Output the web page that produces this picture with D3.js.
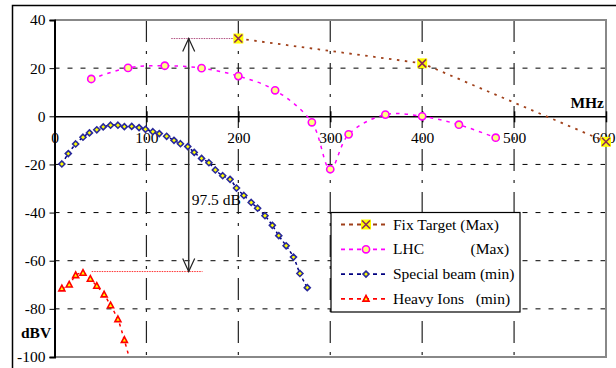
<!DOCTYPE html>
<html>
<head>
<meta charset="utf-8">
<script src="https://cdn.jsdelivr.net/npm/d3@7"></script>
<style>
	body { margin: 0; background: #fff; }
	svg text { font-family: "Liberation Serif", "Times New Roman", "DejaVu Serif", serif; }
</style>
</head>
<body>
<div class="chartfield"></div>
<script>
var width = 616;
var height = 368;
var serif = "'Liberation Serif', 'Times New Roman', 'DejaVu Serif', serif";

// frequencies (MHz) and levels (dBV)
var fixFreq = [200, 400, 600];
var fixLevel = [32.3, 22.0, -10.6];

var lhcFreq = [40, 80, 120, 160, 200, 240, 280, 300, 320, 360, 400, 440, 480];
var lhcLevel = [15.5, 20.1, 21.0, 20.0, 16.7, 10.8, -2.5, -22.0, -7.5, 0.7, 0.0, -3.5, -8.9];

var specFreq = [8, 15, 23, 31, 38, 46, 53, 61, 69, 76, 84, 92, 99, 107, 114, 122, 130, 137,
	145, 152, 160, 168, 175, 183, 191, 198, 206, 214, 221, 229, 237, 244, 252, 260, 267, 275];
var specLevel = [-19.8, -15.5, -11.5, -8.7, -6.9, -5.6, -4.4, -3.7, -3.7, -4.3, -4.2, -4.7, -5.4, -6.4,
	-7.2, -8.3, -10.0, -11.4, -12.6, -15.0, -17.5, -19.3, -22.3, -24.7, -26.2, -29.8, -32.9, -35.8,
	-38.2, -41.3, -45.3, -49.6, -53.8, -58.5, -65.3, -71.2];

var ionFreq = [8, 16, 23, 31, 39, 46, 54, 61, 69, 76, 84];
var ionLevel = [-71.6, -70.0, -66.1, -65.1, -67.6, -70.5, -74.1, -78.6, -84.4, -93.0, -104];

var xTicks = [0, 100, 200, 300, 400, 500, 600];
var yTicks = [40, 20, 0, -20, -40, -60, -80, -100];

var seriesNames = ["Fix Target (Max)", "LHC            (Max)", "Special beam (min)", "Heavy Ions   (min)"];

// 97.5 dB span annotation
var spanFreq = 146;
var spanTop = 32.3;
var spanBottom = -64.5;
var spanLabel = "97.5 dB";

var svg, x, y;

function pairs(fs, ls) {
	return fs.map(function(f, i) { return {f: f, v: ls[i]}; });
}

function svginit() {
	svg = d3.select(".chartfield")
	.append("svg")
	.attr("width", width)
	.attr("height", height)
	.attr("font-family", serif);

	x = d3.scaleLinear().domain([0, 600]).range([54.5, 606]);
	y = d3.scaleLinear().domain([-100, 40]).range([357, 20]);

	svg.append("defs").append("clipPath")
	.attr("id", "plotclip")
	.append("rect")
	.attr("x", x(0)).attr("y", y(40))
	.attr("width", x(600) - x(0)).attr("height", y(-100) - y(40));

	// outer chart frame
	svg.append("rect")
	.attr("x", 12.5).attr("y", 5.5)
	.attr("width", 700).attr("height", 500)
	.attr("fill", "none")
	.attr("stroke", "#000")
	.attr("stroke-width", 1.5);
}

function drawGrid() {
	// horizontal dashed grid
	svg.selectAll("line.hgrid")
	.data([20, -20, -40, -60, -80])
	.enter().append("line")
	.attr("class", "hgrid")
	.attr("x1", x(0)).attr("x2", x(600))
	.attr("y1", function(d) { return y(d); })
	.attr("y2", function(d) { return y(d); })
	.attr("stroke", "#000")
	.attr("stroke-width", 1)
	.attr("stroke-dasharray", "5,8");

	// vertical dash-dot grid
	svg.selectAll("line.vgrid")
	.data([100, 200, 300, 400, 500])
	.enter().append("line")
	.attr("class", "vgrid")
	.attr("x1", function(d) { return x(d); })
	.attr("x2", function(d) { return x(d); })
	.attr("y1", y(40)).attr("y2", y(-100))
	.attr("stroke", "#222")
	.attr("stroke-width", 1.2)
	.attr("stroke-dasharray", "22,9,3,9");

	// gray plot border (top, right, bottom)
	svg.append("path")
	.attr("d", "M" + x(0) + "," + y(40) + "H" + x(600) + "V" + y(-100) + "H" + x(0))
	.attr("fill", "none")
	.attr("stroke", "#888")
	.attr("stroke-width", 2);
}

function drawAxes() {
	var yAxis = svg.append("g")
	.attr("transform", "translate(" + x(0) + ",0)")
	.call(d3.axisLeft(y).tickValues(yTicks).tickSize(5).tickPadding(4)
		.tickFormat(function(d) { return String(d); }));
	yAxis.attr("font-family", serif);
	yAxis.select(".domain").attr("stroke", "#000").attr("stroke-width", 2);
	yAxis.selectAll("text")
	.attr("font-size", 15.5)
	.attr("fill", "#000");

	var xAxis = svg.append("g")
	.attr("transform", "translate(0," + y(0) + ")")
	.call(d3.axisBottom(x).tickValues(xTicks).tickSize(6).tickSizeOuter(0)
		.tickFormat(function(d) { return String(d); }));
	xAxis.attr("font-family", serif);
	xAxis.select(".domain").attr("stroke", "#000").attr("stroke-width", 1.5);
	xAxis.selectAll(".tick line").attr("y1", -5).attr("stroke-width", 1.5);
	xAxis.selectAll("text")
	.attr("y", 22)
	.attr("dy", "0.32em")
	.attr("font-size", 15.5)
	.attr("fill", "#000");
	// last label sits at the right edge of the window
	xAxis.selectAll(".tick text")
	.filter(function(d) { return d == 600; })
	.attr("text-anchor", "end")
	.attr("x", width - 1 - x(600));

	svg.append("text")
	.attr("x", x(600) - 2).attr("y", y(0) - 8)
	.attr("text-anchor", "end")
	.attr("font-size", 15.5)
	.attr("font-weight", "bold")
	.text("MHz");

	svg.append("text")
	.attr("x", 21).attr("y", y(-90) + 5)
	.attr("font-size", 15.5)
	.attr("font-weight", "bold")
	.text("dBV");
}

function drawSpan() {
	svg.append("line")
	.attr("x1", x(127)).attr("x2", x(200))
	.attr("y1", y(spanTop)).attr("y2", y(spanTop))
	.attr("stroke", "#b05080")
	.attr("stroke-width", 1)
	.attr("stroke-dasharray", "1.5,1");

	svg.append("line")
	.attr("x1", x(40.5)).attr("x2", x(161))
	.attr("y1", y(spanBottom)).attr("y2", y(spanBottom))
	.attr("stroke", "#ff3030")
	.attr("stroke-width", 1)
	.attr("stroke-dasharray", "1.5,1");

	var ax = x(spanFreq);
	svg.append("line")
	.attr("x1", ax).attr("x2", ax)
	.attr("y1", y(spanTop)).attr("y2", y(spanBottom))
	.attr("stroke", "#333")
	.attr("stroke-width", 1.5);
	svg.append("path")
	.attr("d", "M" + (ax - 6) + "," + (y(spanTop) + 13) + "L" + ax + "," + y(spanTop) + "L" + (ax + 6) + "," + (y(spanTop) + 13)
		+ "M" + (ax - 6) + "," + (y(spanBottom) - 13) + "L" + ax + "," + y(spanBottom) + "L" + (ax + 6) + "," + (y(spanBottom) - 13))
	.attr("fill", "none")
	.attr("stroke", "#222")
	.attr("stroke-width", 1.2);

	svg.append("text")
	.attr("x", ax + 3).attr("y", y(-37))
	.attr("font-size", 15.5)
	.text(spanLabel);
}

function fixMarker(g, cx, cy) {
	g.append("rect")
	.attr("x", cx - 5).attr("y", cy - 5)
	.attr("width", 10).attr("height", 10)
	.attr("fill", "#ffff00");
	g.append("path")
	.attr("d", "M" + (cx - 4) + "," + (cy - 4) + "L" + (cx + 4) + "," + (cy + 4) + "M" + (cx + 4) + "," + (cy - 4) + "L" + (cx - 4) + "," + (cy + 4))
	.attr("stroke", "#8b2a5a")
	.attr("stroke-width", 1.6);
}

function drawSeries() {
	var plot = svg.append("g").attr("clip-path", "url(#plotclip)");
	var smooth = d3.line().x(function(d) { return x(d.f); }).y(function(d) { return y(d.v); })
		.curve(d3.curveCatmullRom.alpha(0.5));
	var straight = d3.line().x(function(d) { return x(d.f); }).y(function(d) { return y(d.v); });

	// Heavy Ions
	var ion = pairs(ionFreq, ionLevel);
	plot.append("path").attr("d", smooth(ion))
	.attr("fill", "none").attr("stroke", "#ff0000").attr("stroke-width", 1.5).attr("stroke-dasharray", "3,4");
	plot.selectAll("path.ion")
	.data(ion)
	.enter().append("path")
	.attr("class", "ion")
	.attr("d", function(d) {
		var cx = x(d.f), cy = y(d.v);
		return "M" + cx + "," + (cy - 3.4) + "L" + (cx + 3) + "," + (cy + 2.2) + "L" + (cx - 3) + "," + (cy + 2.2) + "Z";
	})
	.attr("fill", "#ffff00").attr("stroke", "#ff0000").attr("stroke-width", 1.6);

	// Special beam
	var spec = pairs(specFreq, specLevel);
	plot.append("path").attr("d", smooth(spec))
	.attr("fill", "none").attr("stroke", "#000080").attr("stroke-width", 1.5).attr("stroke-dasharray", "3,3");
	plot.selectAll("path.spec")
	.data(spec)
	.enter().append("path")
	.attr("class", "spec")
	.attr("d", function(d) {
		var cx = x(d.f), cy = y(d.v);
		return "M" + cx + "," + (cy - 3) + "L" + (cx + 3) + "," + cy + "L" + cx + "," + (cy + 3) + "L" + (cx - 3) + "," + cy + "Z";
	})
	.attr("fill", "#ffff00").attr("stroke", "#2a2a9a").attr("stroke-width", 1.6);

	// LHC
	var lhc = pairs(lhcFreq, lhcLevel);
	plot.append("path").attr("d", smooth(lhc))
	.attr("fill", "none").attr("stroke", "#ff00ff").attr("stroke-width", 1.5).attr("stroke-dasharray", "3.5,5");
	plot.selectAll("circle.lhc")
	.data(lhc)
	.enter().append("circle")
	.attr("class", "lhc")
	.attr("cx", function(d) { return x(d.f); })
	.attr("cy", function(d) { return y(d.v); })
	.attr("r", 3.6)
	.attr("fill", "#ffff80").attr("stroke", "#ff00ff").attr("stroke-width", 1.6);

	// Fix Target
	var fix = pairs(fixFreq, fixLevel);
	svg.append("path").attr("d", straight(fix))
	.attr("fill", "none").attr("stroke", "#a0401a").attr("stroke-width", 1.8).attr("stroke-dasharray", "2.5,5.5");
	fix.forEach(function(d) { fixMarker(svg, x(d.f), y(d.v)); });
}

function drawLegend() {
	var lg = svg.append("g");
	lg.append("rect")
	.attr("x", 331).attr("y", 212.5)
	.attr("width", 189).attr("height", 99.5)
	.attr("fill", "#fff")
	.attr("stroke", "#000")
	.attr("stroke-width", 1.2);

	var colors = ["#a0401a", "#ff00ff", "#000080", "#ff0000"];
	seriesNames.forEach(function(name, i) {
		var cy = 224.5 + i * 24.8;
		lg.append("line")
		.attr("x1", 341).attr("x2", 389)
		.attr("y1", cy).attr("y2", cy)
		.attr("stroke", colors[i]).attr("stroke-width", 1.8).attr("stroke-dasharray", "4,4");
		if (i == 0) fixMarker(lg, 366, cy);
		else if (i == 1) {
			lg.append("circle").attr("cx", 366).attr("cy", cy).attr("r", 3.6)
			.attr("fill", "#ffff80").attr("stroke", "#ff00ff").attr("stroke-width", 1.6);
		}
		else if (i == 2) {
			lg.append("path").attr("d", "M366," + (cy - 3) + "L369," + cy + "L366," + (cy + 3) + "L363," + cy + "Z")
			.attr("fill", "#ffff00").attr("stroke", "#2a2a9a").attr("stroke-width", 1.6);
		}
		else {
			lg.append("path").attr("d", "M366," + (cy - 3.4) + "L369," + (cy + 2.2) + "L363," + (cy + 2.2) + "Z")
			.attr("fill", "#ffff00").attr("stroke", "#ff0000").attr("stroke-width", 1.6);
		}
		lg.append("text")
		.attr("x", 393).attr("y", cy + 5)
		.attr("font-size", 15.5)
		.style("white-space", "pre")
		.text(name);
	});
}

svginit();
drawGrid();
drawAxes();
drawSpan();
drawSeries();
drawLegend();
</script>
</body>
</html>
